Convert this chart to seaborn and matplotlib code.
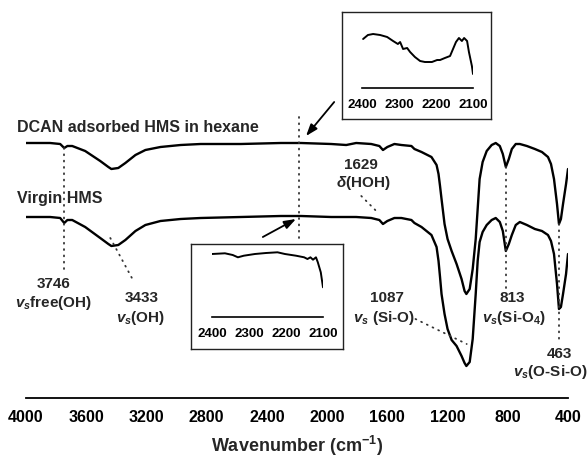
import matplotlib
matplotlib.use("Agg")
import matplotlib.pyplot as plt
import seaborn as sns
import pandas as pd

# ---------------- data ----------------
wavenumber = [4000, 3840, 3773, 3746, 3725, 3693, 3607, 3507, 3453, 3433, 3387, 3340,
              3273, 3207, 3107, 2973, 2840, 2573, 2307, 2173, 1973, 1873, 1807, 1707,
              1653, 1629, 1600, 1553, 1507, 1440, 1420, 1373, 1307, 1273, 1260, 1250,
              1240, 1220, 1200, 1173, 1140, 1107, 1087, 1075, 1053, 1033, 1013, 1000,
              987, 967, 940, 907, 880, 853, 833, 813, 793, 773, 747, 720, 673, 620,
              573, 533, 513, 493, 473, 460, 447, 433, 413, 400]

dcan_hms = [255, 255, 254, 250, 252, 252, 247, 237, 231, 229, 230, 235,
            243, 248, 251, 253, 254, 254, 255, 255, 254, 253, 255, 254,
            252, 248, 251, 254, 253, 252, 249, 246, 241, 233, 224, 212,
            199, 174, 159, 147, 134, 119, 107, 104, 109, 129, 159, 189,
            219, 236, 247, 253, 255, 252, 244, 231, 239, 249, 254, 254, 252, 249,
            246, 241, 234, 219, 194, 174, 179, 194, 214, 229]

virgin_hms = [181, 181, 180, 175, 178, 178, 171, 160, 154, 152, 153, 158,
              167, 173, 177, 179, 180, 181, 182, 182, 181, 181, 181, 180,
              178, 174, 177, 180, 180, 178, 175, 171, 163, 151, 137, 121,
              104, 84, 69, 58, 52, 42, 35, 32, 36, 59, 104, 137,
              156, 166, 173, 178, 180, 176, 167, 147, 154, 163, 173, 176, 173, 169,
              167, 163, 157, 144, 114, 89, 91, 104, 124, 144]

inset_top_wn = [2397, 2384, 2370, 2351, 2332, 2316, 2303, 2297, 2289, 2278, 2270, 2257,
                2243, 2230, 2211, 2197, 2189, 2176, 2162, 2154, 2146, 2138, 2130, 2124,
                2116, 2111, 2103, 2100]
inset_top_val = [60, 64, 65, 64, 62, 58, 55, 57, 50, 51, 47, 42,
                 38, 37, 37, 39, 39, 41, 43, 50, 57, 61, 58, 61,
                 58, 47, 33, 25]

inset_bot_wn = [2400, 2365, 2344, 2330, 2314, 2284, 2254, 2223, 2203, 2173, 2151, 2142,
                2134, 2127, 2119, 2114, 2106, 2100]
inset_bot_val = [75, 75.7, 74, 71.7, 73.3, 75, 76, 76.7, 75, 73.3, 71.7, 70,
                 71.7, 69.3, 71.7, 66.7, 56.7, 41.7]

main_ticks = [4000, 3600, 3200, 2800, 2400, 2000, 1600, 1200, 800, 400]
inset_ticks = [2400, 2300, 2200, 2100]

# ---------------- style ----------------
sns.set_style("white")
plt.rcParams['font.family'] = ['Liberation Sans', 'DejaVu Sans']
plt.rcParams['mathtext.fontset'] = 'custom'
plt.rcParams['mathtext.rm'] = 'Liberation Sans:bold'
plt.rcParams['mathtext.it'] = 'Liberation Sans:italic:bold'
plt.rcParams['mathtext.bf'] = 'Liberation Sans:bold'

W, H = 588, 460
fig = plt.figure(figsize=(W / 100, H / 100), dpi=100)
fig.patch.set_facecolor('white')


def px_axes(x0, y0, x1, y1):
    """Axes rectangle from pixel box (left, top, right, bottom)."""
    return fig.add_axes([x0 / W, 1 - y1 / H, (x1 - x0) / W, (y1 - y0) / H])


ax = px_axes(26, 0, 568, 399)
ax.set_facecolor('none')

df = pd.DataFrame({'wn': wavenumber, 'dcan': dcan_hms, 'virgin': virgin_hms})
sns.lineplot(data=df, x='wn', y='dcan', ax=ax, sort=False, estimator=None,
             color='black', lw=1.7)
sns.lineplot(data=df, x='wn', y='virgin', ax=ax, sort=False, estimator=None,
             color='black', lw=1.7)

ax.set_xlim(4000, 400)
ax.set_ylim(0, 399)
ax.set_xticks(main_ticks)
ax.set_xticklabels([str(t) for t in main_ticks], fontsize=11.5, fontweight='bold')
ax.set_yticks([])
ax.set_ylabel('')
for s in ['left', 'right', 'top']:
    ax.spines[s].set_visible(False)
ax.spines['bottom'].set_linewidth(1.3)
ax.spines['bottom'].set_color('black')
ax.tick_params(axis='x', direction='out', length=5, width=1.3, pad=3, colors='black')
ax.set_xlabel('Wavenumber (cm$^{-1}$)', fontsize=13, fontweight='bold', labelpad=6)

dot_kw = dict(color='#333333', lw=1.3, linestyle=(0, (0.5, 3)), dash_capstyle='round')

# leader lines
ax.plot([3746, 3746], [250, 127], **dot_kw)
ax.plot([3440, 3293], [160, 119], **dot_kw)
ax.plot([1773, 1667], [202, 186], **dot_kw)
ax.plot([1413, 1073], [79, 54], **dot_kw)
ax.plot([813, 813], [231, 109], **dot_kw)
ax.plot([460, 460], [174, 59], **dot_kw)
ax.plot([2187, 2187], [281, 159], **dot_kw)

# arrows
arrow = dict(arrowstyle='-|>,head_length=0.7,head_width=0.25', color='black', lw=1.3,
             shrinkA=0, shrinkB=0)
ax.annotate('', xy=(2140, 262), xytext=(1953, 296), arrowprops=arrow)
ax.annotate('', xy=(2207, 179), xytext=(2427, 161), arrowprops=arrow)

tk = dict(fontweight='bold', fontsize=11, ha='center', va='center', clip_on=False)
ax.text(4060, 272, 'DCAN adsorbed HMS in hexane', fontweight='bold', fontsize=11.5,
        ha='left', va='center', clip_on=False)
ax.text(4060, 200, 'Virgin HMS', fontweight='bold', fontsize=11.5,
        ha='left', va='center', clip_on=False)
ax.text(3820, 115, '3746', **tk)
ax.text(3820, 96, '$v_s$free(OH)', **tk)
ax.text(3233, 101, '3433', **tk)
ax.text(3240, 81, '$v_s$(OH)', **tk)
ax.text(1773, 234, '1629', **tk)
ax.text(1760, 216, r'$\delta$(HOH)', **tk)
ax.text(1600, 101, '1087', **tk)
ax.text(1620, 81, '$v_s$ (Si-O)', **tk)
ax.text(773, 101, '813', **tk)
ax.text(760, 81, '$v_s$(Si-O$_4$)', **tk)
ax.text(460, 45, '463', **tk)
ax.text(272, 27, '$v_s$(O-Si-O)', fontweight='bold', fontsize=11, ha='right',
        va='center', clip_on=False)


def inset(box, inner, wn, val, ylim):
    b = px_axes(*box)
    b.set_facecolor('white')
    b.set_xticks([])
    b.set_yticks([])
    for s in b.spines.values():
        s.set_visible(True)
        s.set_linewidth(1.0)
        s.set_color('#222222')
    a = px_axes(*inner)
    a.set_facecolor('none')
    idf = pd.DataFrame({'wn': wn, 'val': val})
    sns.lineplot(data=idf, x='wn', y='val', ax=a, sort=False, estimator=None,
                 color='black', lw=1.4)
    a.set_xlim(2400, 2100)
    a.set_ylim(*ylim)
    a.set_xticks(inset_ticks)
    a.set_xticklabels([str(t) for t in inset_ticks], fontsize=9.5, fontweight='bold')
    a.set_yticks([])
    a.set_xlabel('')
    a.set_ylabel('')
    for s in ['left', 'right', 'top']:
        a.spines[s].set_visible(False)
    a.spines['bottom'].set_linewidth(1.2)
    a.spines['bottom'].set_color('black')
    a.tick_params(axis='x', direction='out', length=5, width=1.2, pad=2, colors='black')


inset((342, 13, 491, 120), (362, 20, 473, 89), inset_top_wn, inset_top_val, (11, 80))
inset((191, 245, 343, 350), (212, 249, 323, 318), inset_bot_wn, inset_bot_val, (12, 81))

fig.savefig('out.png', dpi=100, facecolor='white')
